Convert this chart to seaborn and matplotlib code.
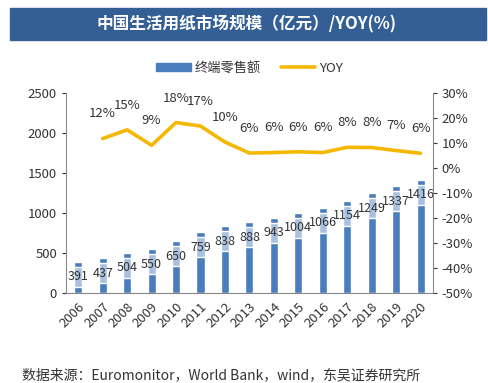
import pandas as pd
import seaborn as sns
import matplotlib.pyplot as plt
from matplotlib.patches import Rectangle, Patch
from matplotlib.lines import Line2D
from matplotlib.ticker import FuncFormatter

# data
years = ['2006', '2007', '2008', '2009', '2010', '2011', '2012', '2013',
         '2014', '2015', '2016', '2017', '2018', '2019', '2020']
retail = [391, 437, 504, 550, 650, 759, 838, 888, 943, 1004, 1066, 1154, 1249, 1337, 1416]
yoy_years = years[1:]
yoy = [11.8, 15.3, 9.1, 18.2, 16.8, 10.4, 6.0, 6.2, 6.5, 6.2, 8.3, 8.2, 7.0, 5.9]

df = pd.DataFrame({'year': years, 'retail': retail})

sns.set_style('white')
plt.rcParams['font.family'] = ['Noto Sans CJK SC', 'DejaVu Sans']

bar_dark = '#4a7dbb'
bar_light = '#a9c1e1'
line_col = '#f5b800'
text_col = '#333333'

fig = plt.figure(figsize=(4.89, 3.83), dpi=100)
ax = fig.add_axes([0.135, 0.235, 0.75, 0.522])

sns.barplot(data=df, x='year', y='retail', color=bar_dark, width=0.33,
            saturation=1, ax=ax)

# light band near the top of each bar (picture-fill look)
for i, v in enumerate(retail):
    ax.bar(i, 250, bottom=v - 62 - 250, width=0.33, color=bar_light, zorder=3)
    ax.text(i, v - 190, str(v), ha='center', va='center', fontsize=9,
            color=text_col, zorder=5)

ax.set_ylim(0, 2500)
ax.set_yticks(range(0, 2501, 500))
ax.set_xlim(-0.5, len(years) - 0.5)
ax.set_xlabel('')
ax.set_ylabel('')
ax.tick_params(axis='y', labelsize=9.5, colors=text_col, length=3, direction='out', left=True)
ax.tick_params(axis='x', which='major', length=0, labelsize=9.5, labelcolor=text_col, pad=5)
ax.set_xticks([i - 0.5 for i in range(len(years) + 1)], minor=True)
ax.tick_params(axis='x', which='minor', length=4, direction='out', color='#888888')
for lab in ax.get_xticklabels():
    lab.set_rotation(45)
    lab.set_ha('right')
    lab.set_rotation_mode('anchor')
for s in ['top', 'right']:
    ax.spines[s].set_visible(False)
for s in ['left', 'bottom']:
    ax.spines[s].set_color('#888888')

ax2 = ax.twinx()
yoy_x = [years.index(y) for y in yoy_years]
sns.lineplot(x=yoy_x, y=yoy, color=line_col, linewidth=2.6, ax=ax2)
for x, v in zip(yoy_x, yoy):
    ax2.annotate(f'{round(v):.0f}%', (x, v), xytext=(0, 13), textcoords='offset points',
                 ha='center', va='bottom', fontsize=9.5, color=text_col)
ax2.set_ylim(-50, 30)
ax2.set_yticks(range(-50, 31, 10))
ax2.yaxis.set_major_formatter(FuncFormatter(lambda v, p: f'{v:.0f}%'))
ax2.tick_params(axis='y', labelsize=9.5, colors=text_col, length=3, direction='out', right=True)
ax2.set_xlim(-0.5, len(years) - 0.5)
for s in ['top', 'left', 'bottom']:
    ax2.spines[s].set_visible(False)
ax2.spines['right'].set_color('#888888')

# title bar
fig.patches.append(Rectangle((10 / 489, 1 - 40 / 383), 476 / 489, 32 / 383,
                             transform=fig.transFigure, color='#335f94', zorder=0))
fig.text(0.505, 1 - 24 / 383, '中国生活用纸市场规模（亿元）/YOY(%)', ha='center', va='center',
         fontsize=12, fontweight='bold', color='white')

handles = [Patch(color=bar_dark, label='终端零售额'),
           Line2D([0], [0], color=line_col, linewidth=2.6, label='YOY')]
fig.legend(handles=handles, loc='center', bbox_to_anchor=(0.51, 1 - 68 / 383), ncol=2,
           frameon=False, fontsize=9.5, handlelength=2.6, handleheight=0.5,
           columnspacing=1.5, handletextpad=0.3, labelcolor=text_col)

fig.text(22 / 489, 1 - 375 / 383, '数据来源：Euromonitor，World Bank，wind，东吴证券研究所',
         ha='left', va='center', fontsize=10, color=text_col)

fig.savefig('out.png', dpi=100)
